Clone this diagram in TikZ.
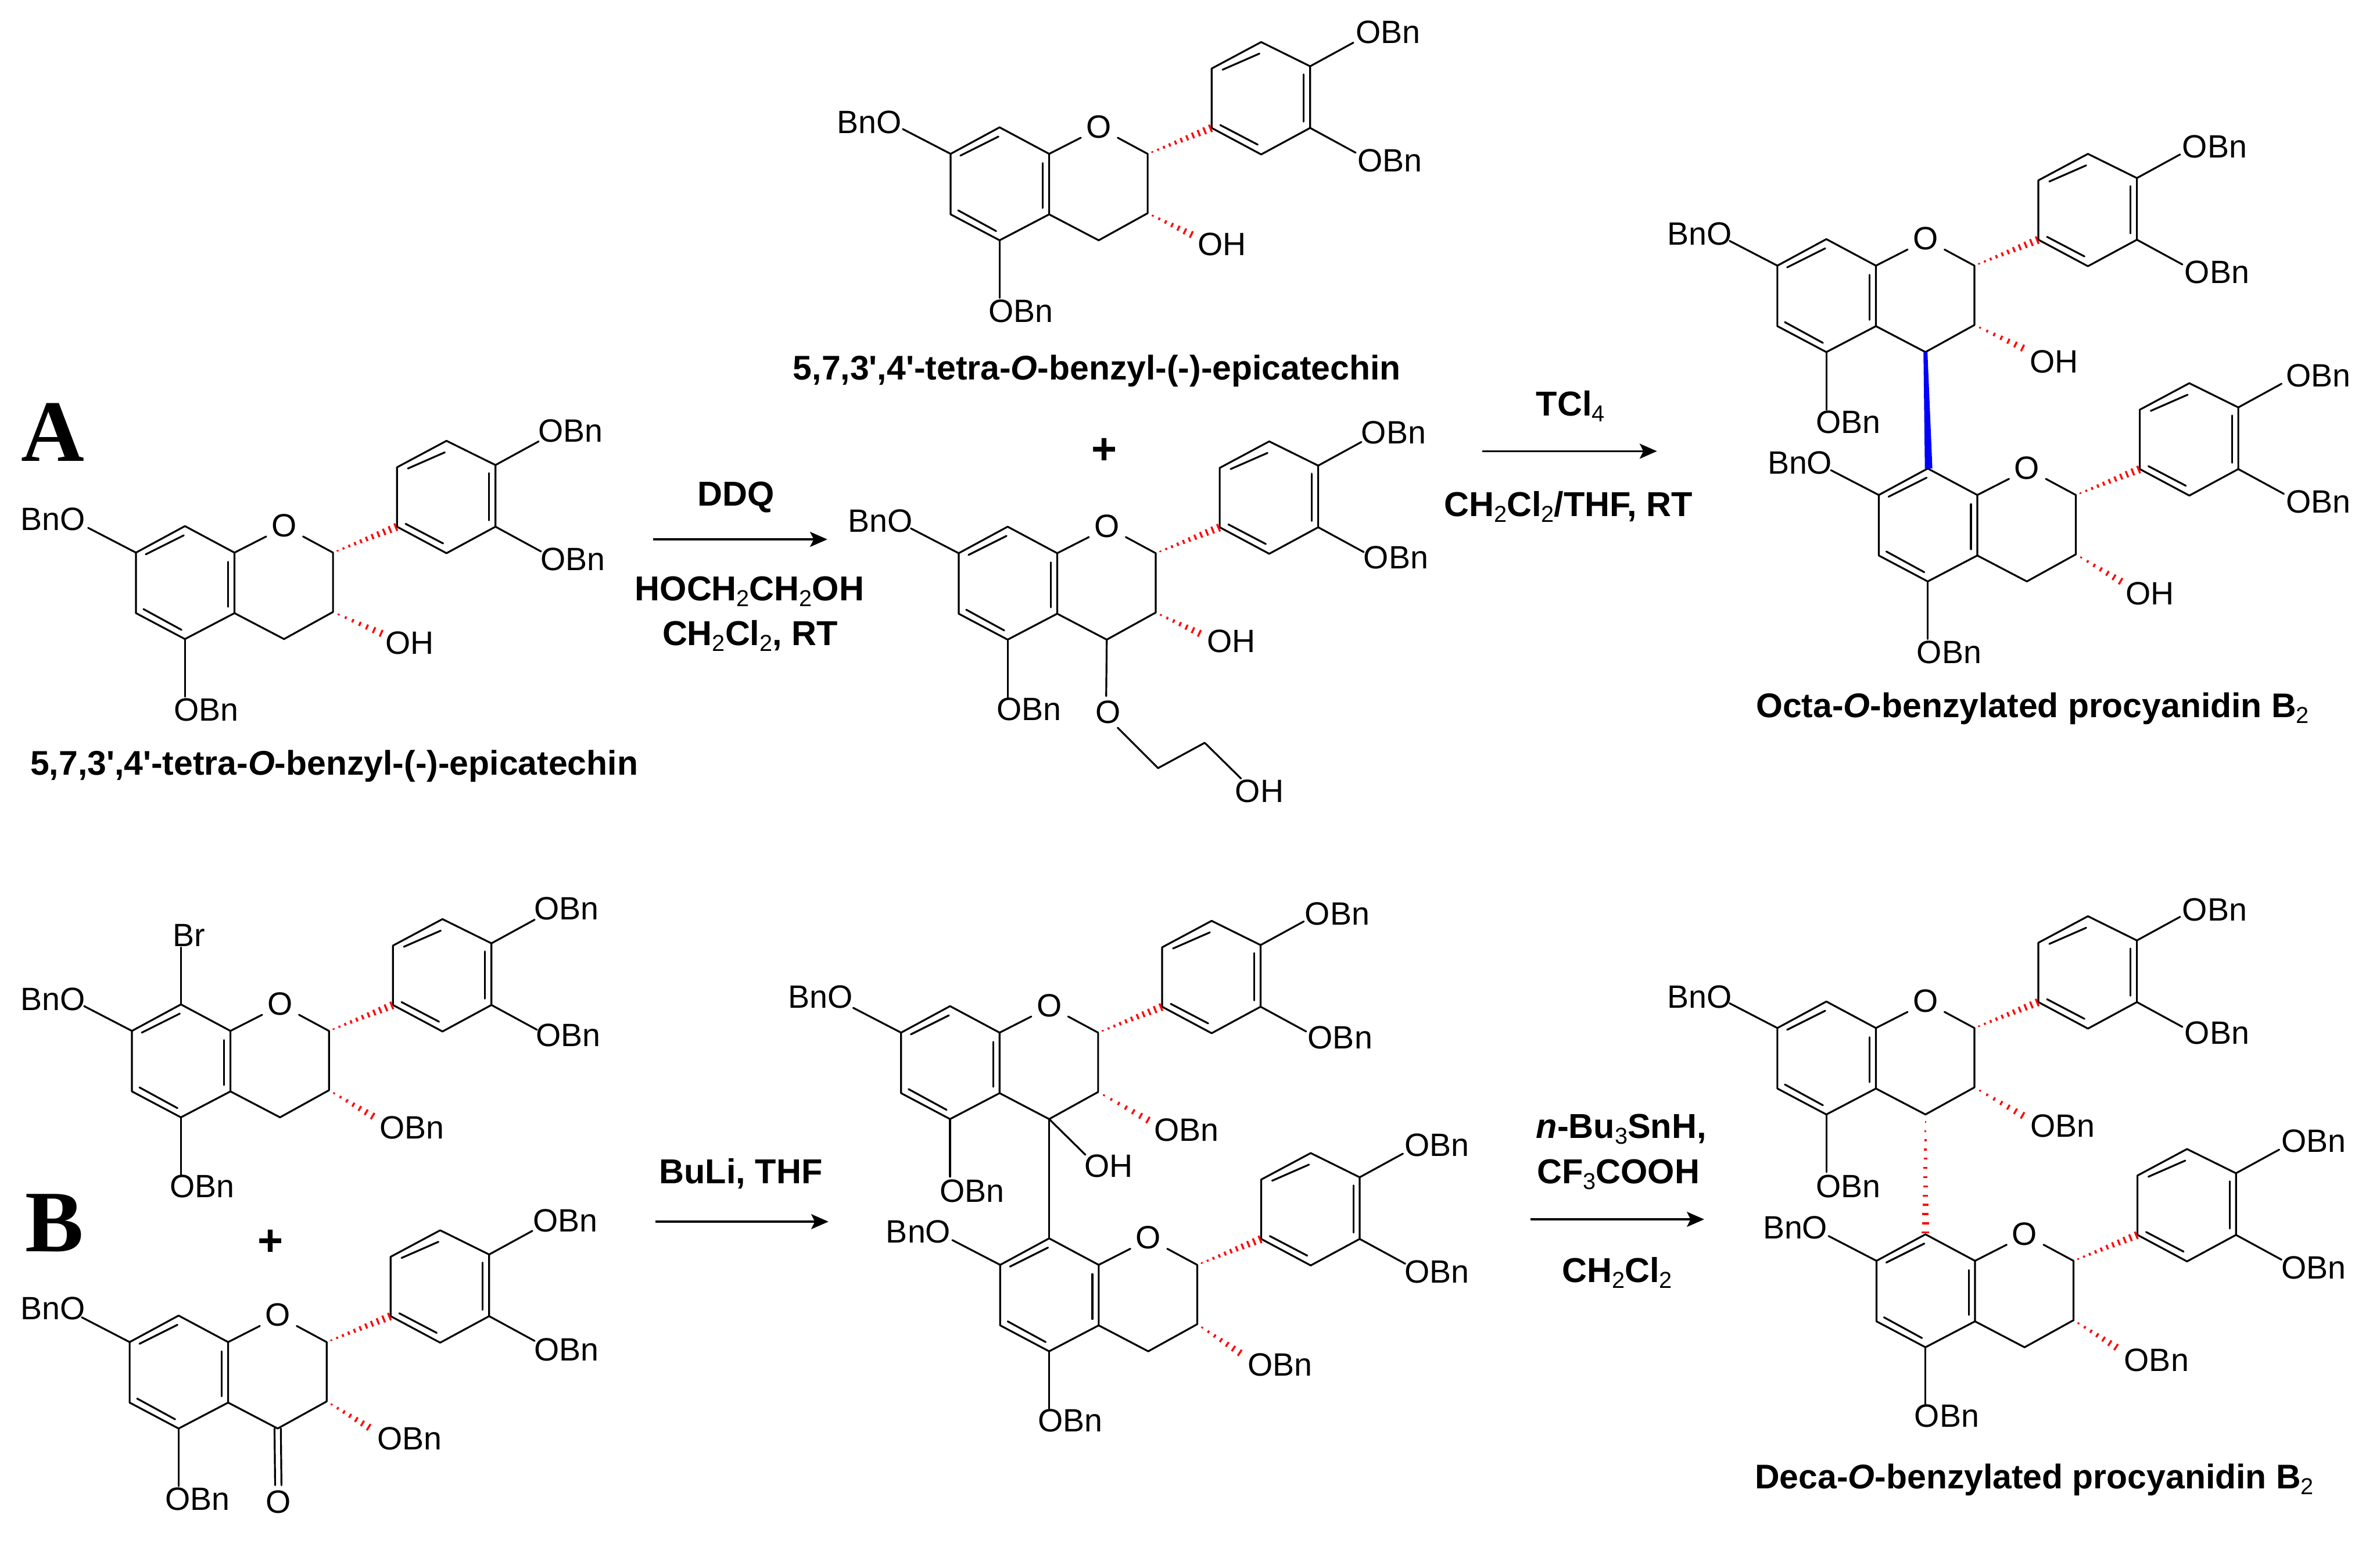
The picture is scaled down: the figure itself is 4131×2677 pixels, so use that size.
\documentclass[tikz,border=0pt]{standalone}
\usepackage{fontspec}
\setmainfont{Liberation Sans}
\newfontfamily\capfont{Liberation Sans}
\newfontfamily\bigfont{Liberation Serif}
\usetikzlibrary{calc,arrows.meta}
\definecolor{hashred}{RGB}{255,0,0}
\tikzset{
  bond/.style={line width=0.8pt,black,line cap=round,line join=round},
  hashstroke/.style={line width=0.85pt,hashred},
  atomlabel/.style={inner sep=0pt,font=\fontsize{14pt}{14pt}\selectfont},
  rxntext/.style={inner sep=0pt,anchor=base,font=\fontsize{15pt}{15pt}\bfseries\selectfont},
  captext/.style={inner sep=0pt,anchor=base,font=\capfont\fontsize{14.85pt}{15pt}\bfseries\selectfont},
  panel/.style={inner sep=0pt,font=\bigfont\fontsize{38pt}{38pt}\bfseries\selectfont},
  rxnarrow/.style={line width=0.85pt,-{Stealth[length=7.5pt,width=6.5pt,inset=1.6pt]}}
}
\newcommand{\subt}[1]{\raisebox{-2.5pt}{\fontsize{10pt}{10pt}\fontseries{m}\selectfont #1}}
\newcommand{\hashb}[4][1.75]{% max half-length, from, to, strokes
  \foreach \i in {1,...,#4}{
    \pgfmathsetmacro{\t}{(\i-0.2)/#4}
    \pgfmathsetmacro{\w}{0.2+(#1-0.2)*\t}
    \draw[hashstroke] ($(#2)!\t!(#3)!\w pt!90:(#3)$) -- ($(#2)!\t!(#3)!\w pt!-90:(#3)$);
  }}
\newcommand{\flav}[3]{% prefix, x, y of ring-fusion carbon
  \begin{scope}[shift={(#2,#3)}]
    \coordinate (#1c7) at (-171,0);
    \coordinate (#1c8) at (-86,-46);
    \coordinate (#1c8a) at (0,0);
    \coordinate (#1c4a) at (0,105);
    \coordinate (#1c5) at (-86,150);
    \coordinate (#1c6) at (-171,105);
    \coordinate (#1c2) at (171,0);
    \coordinate (#1c3) at (171,103);
    \coordinate (#1c4) at (86,150);
    \coordinate (#1oa) at (55,-28);
    \coordinate (#1ob) at (119,-28);
    \coordinate (#1p1) at (282,-45);
    \coordinate (#1p2) at (282,-148);
    \coordinate (#1p3) at (368,-194);
    \coordinate (#1p4) at (453,-152);
    \coordinate (#1p5) at (453,-45);
    \coordinate (#1p6) at (368,1);
    \coordinate (#1e4) at (528,-193);
    \coordinate (#1e5) at (532,-2);
    \coordinate (#1e7) at (-254,-43);
    \coordinate (#1eb) at (-86,250);
    \node[atomlabel] (#1ringO) at (86,-47) {O};
    \draw[bond] (#1c8a) -- (#1c8) -- (#1c7) -- (#1c6) -- (#1c5) -- (#1c4a) -- cycle;
    \draw[bond] (#1c4a) -- (#1c4) -- (#1c3) -- (#1c2) -- (#1ob);
    \draw[bond] (#1c8a) -- (#1oa);
    \draw[bond] (#1p1) -- (#1p2) -- (#1p3) -- (#1p4) -- (#1p5) -- (#1p6) -- cycle;
    \draw[bond] (#1p4) -- (#1e4);
    \draw[bond] (#1p5) -- (#1e5);
    \draw[bond] (#1c7) -- (#1e7);
    \draw[bond] (#1c5) -- (#1eb);
    \draw[bond] (-154,3) -- (-88,-30);
    \draw[bond] (-11,16) -- (-11,94);
    \draw[bond] (-158,98) -- (-92,134);
    \draw[bond] (301,-146) -- (365,-174);
    \draw[bond] (442,-138) -- (442,-56);
    \draw[bond] (297,-50) -- (362,-16);
    \hashb{#1c2}{#1p1}{11}
  \end{scope}}
\newcommand{\lab}[4]{\node[atomlabel] (#1) at (#2,#3) {#4};}
\begin{document}
\begin{tikzpicture}[x=0.25pt,y=-0.25pt]
\useasboundingbox (0,0) rectangle (4131,2677);
\fill[white] (0,0) rectangle (4131,2677);

% panel letters
\node[panel] (panelA) at (92,750) {A};
\node[panel] (panelB) at (95,2122) {B};

% molecule 1: top-left
\flav{a}{407}{959}
\coordinate (ah) at (664,1100);
\hashb[1.6]{ac3}{ah}{7}
\lab{a1}{990}{748}{OBn}
\lab{a2}{994}{971}{OBn}
\lab{a3}{92}{901}{BnO}
\lab{a4}{711}{1116}{OH}
\lab{a5}{358}{1232}{OBn}
\node[captext] (capa) at (580,1345) {5,7,3',4'-tetra-\textit{O}-benzyl-(-)-epicatechin};

% molecule 2: top-centre
\flav{b}{1821}{267}
\coordinate (bh) at (2070,408);
\hashb[1.6]{bc3}{bh}{7}
\lab{b1}{2409}{56}{OBn}
\lab{b2}{2412}{279}{OBn}
\lab{b3}{1509}{212}{BnO}
\lab{b4}{2121}{424}{OH}
\lab{b5}{1772}{540}{OBn}
\node[captext] (capb) at (1904,659) {5,7,3',4'-tetra-\textit{O}-benzyl-(-)-epicatechin};
\node[inner sep=0pt,font=\fontsize{19pt}{19pt}\bfseries\selectfont] (plusa) at (1917,783) {+};

% molecule 3: centre
\flav{c}{1835}{960}
\coordinate (ch) at (2084,1100);
\hashb[1.6]{cc3}{ch}{7}
\lab{c1}{2419}{751}{OBn}
\lab{c2}{2423}{968}{OBn}
\lab{c3}{1528}{904}{BnO}
\lab{c4}{2137}{1113}{OH}
\lab{c5}{1786}{1231}{OBn}
\lab{c6}{1923}{1236}{O}
\lab{c7}{2186}{1373}{OH}
\coordinate (cg1) at (1920,1208);
\coordinate (cg2) at (1940,1263);
\coordinate (cg3) at (2010,1333);
\coordinate (cg4) at (2091,1289);
\coordinate (cg5) at (2154,1351);
\draw[bond] (cc4) -- (cg1);
\draw[bond] (cg2) -- (cg3) -- (cg4) -- (cg5);

% molecule 4: bromide
\flav{d}{400}{1789}
\coordinate (dh) at (649,1938);
\coordinate (dbr) at (314,1644);
\hashb[1.6]{dc3}{dh}{7}
\draw[bond] (dc8) -- (dbr);
\lab{d0}{328}{1623}{Br}
\lab{d1}{983}{1577}{OBn}
\lab{d2}{986}{1797}{OBn}
\lab{d3}{92}{1734}{BnO}
\lab{d4}{715}{1957}{OBn}
\lab{d5}{351}{2059}{OBn}
\node[inner sep=0pt,font=\fontsize{19pt}{19pt}\bfseries\selectfont] (plusb) at (469,2157) {+};

% molecule 5: ketone
\flav{e}{396}{2329}
\coordinate (eh) at (642,2478);
\hashb[1.6]{ec3}{eh}{7}
\lab{e1}{981}{2118}{OBn}
\lab{e2}{983}{2342}{OBn}
\lab{e3}{92}{2271}{BnO}
\lab{e4}{711}{2497}{OBn}
\lab{e5}{343}{2601}{OBn}
\lab{e6}{483}{2606}{O}
\draw[bond] ($(ec4)+(-5.5,0)$) -- ($(e6.north)+(-5.5,-8)$);
\draw[bond] ($(ec4)+(5.5,0)$) -- ($(e6.north)+(5.5,-8)$);

% molecule 6: Octa dimer
\flav{f}{3256}{461}
\coordinate (fh) at (3513,605);
\hashb[1.6]{fc3}{fh}{7}
\lab{f1}{3844}{255}{OBn}
\lab{f2}{3848}{472}{OBn}
\lab{f3}{2950}{406}{BnO}
\lab{f4}{3565}{628}{OH}
\lab{f5}{3208}{733}{OBn}
\flav{g}{3432}{859}
\coordinate (gh) at (3683,1010);
\hashb[1.6]{gc3}{gh}{7}
\lab{g1}{4024}{652}{OBn}
\lab{g2}{4024}{871}{OBn}
\lab{g3}{3124}{803}{BnO}
\lab{g4}{3732}{1030}{OH}
\lab{g5}{3383}{1132}{OBn}
\fill[blue] ($(fc4)+(-3.5,0)$) -- ($(fc4)+(3.5,0)$) -- ($(gc8)+(8,0)$) -- ($(gc8)+(-5,0)$) -- cycle;
\node[captext] (capf) at (3528,1245) {Octa-\textit{O}-benzylated procyanidin B\subt{2}};

% molecule 7: coupled product
\flav{h}{1735}{1792}
\coordinate (hh) at (1995,1945);
\coordinate (hoh) at (1884,2004);
\hashb[1.6]{hc3}{hh}{7}
\draw[bond] (hc4) -- (hoh);
\lab{h1}{2321}{1586}{OBn}
\lab{h2}{2326}{1801}{OBn}
\lab{h3}{1424}{1730}{BnO}
\lab{h4}{2059}{1961}{OBn}
\lab{h5}{1687}{2067}{OBn}
\lab{h6}{1924}{2024}{OH}
\flav{i}{1907}{2195}
\coordinate (ih) at (2154,2349);
\hashb[1.6]{ic3}{ih}{7}
\draw[bond] (hc4) -- (ic8);
\lab{i1}{2494}{1987}{OBn}
\lab{i2}{2494}{2207}{OBn}
\lab{i3}{1594}{2137}{BnO}
\lab{i4}{2222}{2368}{OBn}
\lab{i5}{1858}{2465}{OBn}

% molecule 8: Deca dimer
\flav{j}{3256}{1784}
\coordinate (jh) at (3513,1937);
\hashb[1.6]{jc3}{jh}{7}
\lab{j1}{3844}{1579}{OBn}
\lab{j2}{3848}{1793}{OBn}
\lab{j3}{2950}{1730}{BnO}
\lab{j4}{3580}{1954}{OBn}
\lab{j5}{3208}{2059}{OBn}
\flav{k}{3428}{2188}
\coordinate (kh) at (3675,2339);
\hashb[1.6]{kc3}{kh}{7}
\hashb[1.6]{jc4}{kc8}{13}
\lab{k1}{4016}{1980}{OBn}
\lab{k2}{4016}{2200}{OBn}
\lab{k3}{3116}{2130}{BnO}
\lab{k4}{3743}{2360}{OBn}
\lab{k5}{3379}{2457}{OBn}
\node[captext] (capk) at (3531,2583) {Deca-\textit{O}-benzylated procyanidin B\subt{2}};

% reactions
\coordinate (r1a) at (1134,936);
\coordinate (r1b) at (1436,936);
\draw[rxnarrow] (r1a) -- (r1b);
\node[rxntext] (r1t1) at (1277,878) {DDQ};
\node[rxntext] (r1t2) at (1301,1042) {HOCH\subt{2}CH\subt{2}OH};
\node[rxntext] (r1t3) at (1302,1120) {CH\subt{2}Cl\subt{2}, RT};

\coordinate (r2a) at (2573,783);
\coordinate (r2b) at (2876,783);
\draw[rxnarrow] (r2a) -- (r2b);
\node[rxntext] (r2t1) at (2726,722) {TCl\subt{4}};
\node[rxntext] (r2t2) at (2722,896) {CH\subt{2}Cl\subt{2}/THF, RT};

\coordinate (r3a) at (1138,2120);
\coordinate (r3b) at (1438,2120);
\draw[rxnarrow] (r3a) -- (r3b);
\node[rxntext] (r3t1) at (1286,2054) {BuLi, THF};

\coordinate (r4a) at (2656,2116);
\coordinate (r4b) at (2958,2116);
\draw[rxnarrow] (r4a) -- (r4b);
\node[rxntext] (r4t1) at (2814,1975) {\textit{n}-Bu\subt{3}SnH,};
\node[rxntext] (r4t2) at (2809,2054) {CF\subt{3}COOH};
\node[rxntext] (r4t3) at (2807,2225) {CH\subt{2}Cl\subt{2}};
\end{tikzpicture}
\end{document}
